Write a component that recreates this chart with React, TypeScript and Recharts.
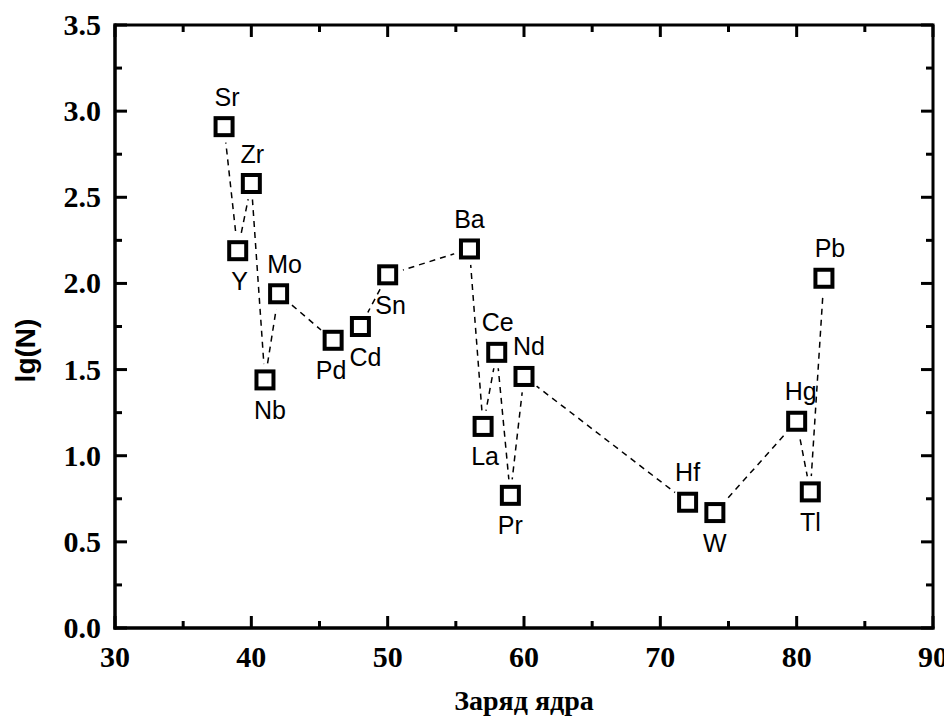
import { LineChart, Line, XAxis, YAxis, LabelList, ReferenceArea } from "recharts";

// elements, nuclear charge and lg(N)
const elements = ["Sr", "Y", "Zr", "Nb", "Mo", "Pd", "Cd", "Sn", "Ba", "La", "Ce", "Pr", "Nd", "Hf", "W", "Hg", "Tl", "Pb"];
const charges = [38, 39, 40, 41, 42, 46, 48, 50, 56, 57, 58, 59, 60, 72, 74, 80, 81, 82];
const lgN = [2.91, 2.19, 2.58, 1.44, 1.94, 1.67, 1.75, 2.05, 2.2, 1.17, 1.6, 0.77, 1.46, 0.73, 0.67, 1.2, 0.79, 2.03];

const xTicks = [30, 35, 40, 45, 50, 55, 60, 65, 70, 75, 80, 85, 90];
const yTicks = [0, 0.25, 0.5, 0.75, 1, 1.25, 1.5, 1.75, 2, 2.25, 2.5, 2.75, 3, 3.25, 3.5];

const data = elements.map((name, i) => ({ name, z: charges[i], v: lgN[i] }));

// label placement (style only)
const below = new Set(["Y", "Nb", "Pd", "Cd", "Sn", "La", "Pr", "W", "Tl"]);
const nudge: Record<string, number> = { Sr: 3, Zr: 1, Y: 2, Mo: 6, Nb: 5, Pd: -2, Cd: 5, Sn: 3, Ce: 1, Nd: 5, La: 2, Hg: 4, Pb: 6 };

const W = 944;
const H = 709;
const margin = { top: 17, right: 19, left: 0, bottom: 0 };
const plotTop = margin.top;
const plotRight = W - margin.right;

const serif = "'Liberation Serif', 'Times New Roman', serif";
const sans = "'Liberation Sans', Arial, sans-serif";
const axisLine = { stroke: "#000", strokeWidth: 3, strokeLinecap: "square" as const };

const isMajorX = (v: number) => v % 10 === 0;
const isMajorY = (v: number) => Math.abs(v * 2 - Math.round(v * 2)) < 1e-6;

// bottom tick + mirrored tick on the top edge
const BottomTick = (p: any) => {
  const v = p.payload.value;
  const len = isMajorX(v) ? 12 : 7;
  return (
    <g>
      <line x1={p.x} x2={p.x} y1={p.y} y2={p.y - len} stroke="#000" strokeWidth={3} />
      <line x1={p.x} x2={p.x} y1={plotTop} y2={plotTop + len} stroke="#000" strokeWidth={3} />
      {isMajorX(v) && (
        <text x={p.x} y={p.y + 39} textAnchor="middle" fontFamily={serif} fontWeight="bold" fontSize={30} fill="#000">
          {v}
        </text>
      )}
    </g>
  );
};

// left tick + mirrored tick on the right edge
const LeftTick = (p: any) => {
  const v = p.payload.value;
  const major = isMajorY(v);
  const len = major ? 12 : 7;
  return (
    <g>
      <line x1={p.x} x2={p.x + len} y1={p.y} y2={p.y} stroke="#000" strokeWidth={3} />
      <line x1={plotRight} x2={plotRight - len} y1={p.y} y2={p.y} stroke="#000" strokeWidth={3} />
      {major && (
        <text x={p.x - 14} y={p.y + 10} textAnchor="end" fontFamily={serif} fontWeight="bold" fontSize={30} fill="#000">
          {v.toFixed(1)}
        </text>
      )}
    </g>
  );
};

const GapDot = (p: any) => <circle key={`g-${p.index}`} cx={p.cx} cy={p.cy} r={16} fill="#fff" />;

const SquareDot = (p: any) => (
  <rect key={`s-${p.index}`} x={p.cx - 8.5} y={p.cy - 8.5} width={17} height={17} fill="#fff" stroke="#000" strokeWidth={4} />
);

const ElementLabel = (p: any) => {
  const name = String(p.value);
  const dy = below.has(name) ? 39 : -21;
  return (
    <text x={p.x + (nudge[name] || 0)} y={p.y + dy} textAnchor="middle" fontFamily={sans} fontSize={25} fill="#000">
      {name}
    </text>
  );
};

export default function App() {
  return (
    <LineChart width={W} height={H} data={data} margin={margin}>
      <XAxis
        dataKey="z"
        type="number"
        domain={[30, 90]}
        ticks={xTicks}
        interval={0}
        height={89}
        axisLine={axisLine}
        tickLine={false}
        tickSize={0}
        tickMargin={0}
        tick={BottomTick}
        label={{
          content: (lp: any) => (
            <text
              x={lp.viewBox.x + lp.viewBox.width / 2}
              y={lp.viewBox.y + 82}
              textAnchor="middle"
              fontFamily={serif}
              fontWeight="bold"
              fontSize={28}
              fill="#000"
            >
              Заряд ядра
            </text>
          ),
        }}
      />
      <YAxis
        dataKey="v"
        type="number"
        domain={[0, 3.5]}
        ticks={yTicks}
        interval={0}
        width={107}
        axisLine={axisLine}
        tickLine={false}
        tickSize={0}
        tickMargin={0}
        tick={LeftTick}
        label={{
          content: (lp: any) => {
            const cx = 27;
            const cy = lp.viewBox.y + lp.viewBox.height / 2 + 24;
            return (
              <text
                x={cx}
                y={cy}
                transform={`rotate(-90 ${cx} ${cy})`}
                textAnchor="middle"
                fontFamily={sans}
                fontWeight="bold"
                fontSize={28}
                fill="#000"
              >
                lg(N)
              </text>
            );
          },
        }}
      />
      <ReferenceArea
        x1={30}
        x2={90}
        y1={0}
        y2={3.5}
        fill="none"
        fillOpacity={0}
        stroke="#000"
        strokeWidth={3}
        ifOverflow="visible"
      />
      <Line
        dataKey="v"
        stroke="#000"
        strokeWidth={1.5}
        strokeDasharray="6 5"
        dot={GapDot}
        activeDot={false}
        isAnimationActive={false}
      />
      <Line dataKey="v" stroke="none" dot={SquareDot} activeDot={false} isAnimationActive={false}>
        <LabelList dataKey="name" content={ElementLabel} />
      </Line>
    </LineChart>
  );
}
